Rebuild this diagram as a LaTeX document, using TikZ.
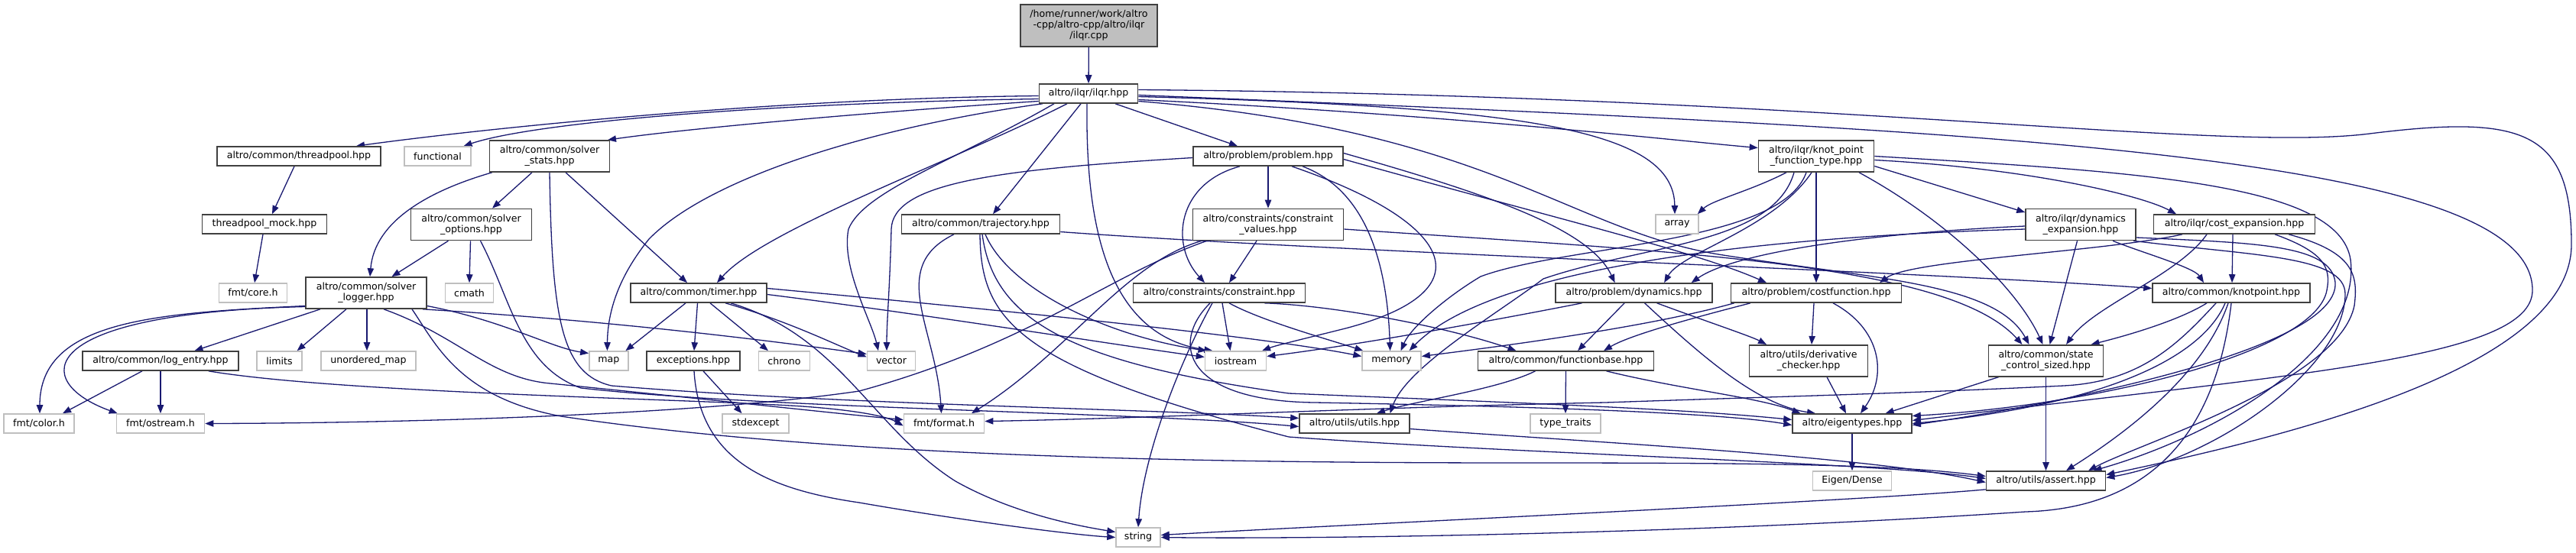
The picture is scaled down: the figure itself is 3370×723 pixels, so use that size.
\documentclass[tikz,border=0pt]{standalone}
\usepackage{fontspec}
\setmainfont{DejaVu Sans}
\usetikzlibrary{arrows.meta,calc,backgrounds}
\definecolor{docc}{HTML}{404040}
\definecolor{extc}{HTML}{BFBFBF}
\definecolor{rootc}{HTML}{BFBFBF}
\definecolor{edgec}{HTML}{191970}
\newcommand\nodefont{\fontsize{6.3pt}{7.1pt}\selectfont}
\tikzset{
  nb/.style={rectangle, inner sep=0pt, align=center, font=\nodefont, text=black, line width=0.8pt, fill=white, minimum height=12.5pt},
  doc/.style={nb, draw=docc},
  ext/.style={nb, draw=extc},
  two/.style={minimum height=20.5pt},
  e/.style={draw=edgec, line width=0.65pt, line join=round, -{Triangle[length=5.5pt,width=4.2pt]}},
}
\begin{document}
\begin{tikzpicture}[x=0.5pt,y=-0.5pt]
\useasboundingbox (0,0) rectangle (3370,723);
% nodes
\node[doc,fill=rootc,minimum width=89.5pt,minimum height=27.5pt] (root) at (1424.4,33.2) {/home/runner/work/altro\\-cpp/altro-cpp/altro/ilqr\\/ilqr.cpp};
\node[doc,minimum width=64.5pt] (ilqr) at (1424,122.5) {altro/ilqr/ilqr.hpp};
\node[doc,minimum width=107pt] (threadpool) at (391,204.5) {altro/common/threadpool.hpp};
\node[ext,minimum width=43.5pt] (functional) at (572.5,204.5) {functional};
\node[doc,two,minimum width=78.5pt] (solverstats) at (719,204.5) {altro/common/solver\\\_stats.hpp};
\node[doc,minimum width=98pt] (problem) at (1659,204.5) {altro/problem/problem.hpp};
\node[doc,two,minimum width=75.5pt] (knotft) at (2376,204.5) {altro/ilqr/knot\_point\\\_function\_type.hpp};
\node[doc,minimum width=81.5pt] (mock) at (346,293.5) {threadpool\_mock.hpp};
\node[doc,two,minimum width=79pt] (solveroptions) at (616.5,294) {altro/common/solver\\\_options.hpp};
\node[doc,minimum width=103.5pt] (trajectory) at (1283,293.5) {altro/common/trajectory.hpp};
\node[doc,two,minimum width=98.5pt] (constraintvalues) at (1659,294) {altro/constraints/constraint\\\_values.hpp};
\node[ext,minimum width=28pt] (array) at (2194,293.5) {array};
\node[doc,two,minimum width=72pt] (dynexp) at (2722,294) {altro/ilqr/dynamics\\\_expansion.hpp};
\node[doc,minimum width=105.5pt] (costexp) at (2923,293.5) {altro/ilqr/cost\_expansion.hpp};
\node[ext,minimum width=44.5pt] (fmtcore) at (331,383.5) {fmt/core.h};
\node[doc,two,minimum width=79pt] (solverlogger) at (479,383.5) {altro/common/solver\\\_logger.hpp};
\node[ext,minimum width=31.5pt] (cmath) at (614,383.5) {cmath};
\node[doc,minimum width=89pt] (timer) at (914,383.5) {altro/common/timer.hpp};
\node[doc,minimum width=112.5pt] (constraint) at (1595,383.5) {altro/constraints/constraint.hpp};
\node[doc,minimum width=102.5pt] (dynamics) at (2137.6,383.5) {altro/problem/dynamics.hpp};
\node[doc,minimum width=111.5pt] (costfunction) at (2376,383.5) {altro/problem/costfunction.hpp};
\node[doc,minimum width=103pt] (knotpoint) at (2919,383.5) {altro/common/knotpoint.hpp};
\node[doc,minimum width=102pt] (logentry) at (210,472.5) {altro/common/log\_entry.hpp};
\node[ext,minimum width=29.5pt] (limits) at (365.6,472.5) {limits};
\node[ext,minimum width=62pt] (unorderedmap) at (482,472.5) {unordered\_map};
\node[ext,minimum width=25.5pt] (map) at (796.4,472.5) {map};
\node[doc,minimum width=61pt] (exceptions) at (907,472.5) {exceptions.hpp};
\node[ext,minimum width=33.5pt] (chrono) at (1026,472.5) {chrono};
\node[ext,minimum width=31.5pt] (vector) at (1166,472.5) {vector};
\node[ext,minimum width=40pt] (iostream) at (1616.5,472.5) {iostream};
\node[ext,minimum width=38.5pt] (memory) at (1820.6,472.5) {memory};
\node[doc,minimum width=115pt] (functionbase) at (2048.5,472.5) {altro/common/functionbase.hpp};
\node[doc,two,minimum width=77.5pt] (derivchecker) at (2366,472.3) {altro/utils/derivative\\\_checker.hpp};
\node[doc,two,minimum width=75pt] (statecs) at (2676.5,472.3) {altro/common/state\\\_control\_sized.hpp};
\node[ext,minimum width=46pt] (fmtcolor) at (51,554.5) {fmt/color.h};
\node[ext,minimum width=57.5pt] (fmtostream) at (210,554.5) {fmt/ostream.h};
\node[ext,minimum width=43.5pt] (stdexcept) at (988.5,554.5) {stdexcept};
\node[ext,minimum width=52.5pt] (fmtformat) at (1235,554.5) {fmt/format.h};
\node[doc,minimum width=72pt] (utils) at (1772,554.5) {altro/utils/utils.hpp};
\node[ext,minimum width=46pt] (typetraits) at (2048,554.5) {type\_traits};
\node[doc,minimum width=78pt] (eigentypes) at (2423,554.5) {altro/eigentypes.hpp};
\node[ext,minimum width=51.5pt] (eigendense) at (2423,629.5) {Eigen/Dense};
\node[doc,minimum width=78pt] (assert) at (2676.5,629.5) {altro/utils/assert.hpp};
\node[ext,minimum width=29pt] (string) at (1489,703.5) {string};
% edges
\begin{scope}[on background layer]
\draw[e] (root) -- (ilqr);
\draw[e] ($(ilqr.west)+(0,3)$) .. controls (1000,129) and (620,170) .. ($(threadpool.north)+(75,0)$);
\draw[e] ($(ilqr.west)+(0,7)$) .. controls (1000,135) and (700,160) .. ($(functional.north)+(34,0)$);
\draw[e] ($(ilqr.west)+(0,10)$) .. controls (1150,146) and (900,168) .. ($(solverstats.north)+(76,0)$);
\draw[e] ($(ilqr.south)+(-60,0)$) .. controls (1150,165) and (930,230) .. (849,313) .. controls (815,355) and (795,400) .. ($(map.north)+(-2,0)$);
\draw[e] ($(ilqr.south)+(-28,0)$) .. controls (1250,210) and (1000,300) .. ($(timer.north)+(24,0)$);
\draw[e] ($(ilqr.south)+(-45,0)$) .. controls (1250,210) and (1130,250) .. (1110,300) .. controls (1100,350) and (1140,420) .. ($(vector.north)+(-17,0)$);
\draw[e] ($(ilqr.south)+(-10,0)$) -- ($(trajectory.north)+(16,0)$);
\draw[e] ($(ilqr.south)+(-2,0)$) .. controls (1420,300) and (1450,440) .. ($(iostream.north)+(-30,0)$);
\draw[e] ($(ilqr.south)+(35,0)$) -- ($(problem.north)+(-40,0)$);
\draw[e] ($(ilqr.east)+(0,4)$) .. controls (2000,140) and (2190,170) .. ($(array.north)+(-3,0)$);
\draw[e] ($(ilqr.east)+(0,8)$) .. controls (1900,150) and (2200,185) .. ($(knotft.west)+(0,-11)$);
\draw[e] ($(ilqr.east)+(0,2)$) .. controls (2600,170) and (3313,200) .. (3313,380) .. controls (3313,470) and (3000,490) .. ($(eigentypes.east)+(0,-4)$);
\draw[e] ($(ilqr.east)+(0,-5)$) .. controls (2400,125) and (2900,200) .. (3100,175) .. controls (3300,150) and (3364,170) .. (3364,320) .. controls (3364,480) and (3000,570) .. ($(assert.east)+(0,-8)$);
\draw[e] ($(ilqr.east)+(0,10)$) .. controls (1950,170) and (2050,300) .. (2248,333) .. controls (2450,365) and (2610,370) .. ($(statecs.north)+(-22,0)$);
\draw[e] ($(threadpool.south)+(-6,0)$) -- ($(mock.north)+(10,0)$);
\draw[e] ($(mock.south)+(-2,0)$) -- ($(fmtcore.north)+(2,0)$);
\draw[e] ($(solverstats.south)+(-23,0)$) -- ($(solveroptions.north)+(27.5,0)$);
\draw[e] ($(solverstats.south west)+(4,0)$) .. controls (560,250) and (490,290) .. ($(solverlogger.north)+(5,0)$);
\draw[e] ($(solverstats.south)+(21,0)$) -- ($(timer.north)+(-15,0)$);
\draw[e] (solverstats.south) .. controls (722,420) and (735,490) .. (800,505) .. controls (1100,530) and (1500,535) .. ($(utils.west)+(0,-7)$);
\draw[e] ($(solveroptions.south)+(-30,0)$) -- ($(solverlogger.north)+(33.5,0)$);
\draw[e] ($(solveroptions.south)+(-1,0)$) -- (cmath.north);
\draw[e] ($(solveroptions.south)+(12,0)$) .. controls (668,390) and (680,480) .. (760,508) .. controls (1000,535) and (1500,540) .. ($(utils.west)+(0,4)$);
\draw[e] ($(solverlogger.south)+(-60,0)$) -- ($(logentry.north)+(44.5,0)$);
\draw[e] ($(solverlogger.south)+(-26,0)$) -- ($(limits.north)+(23,0)$);
\draw[e] ($(solverlogger.south)+(1,0)$) -- ($(unorderedmap.north)+(-2,0)$);
\draw[e] ($(solverlogger.west)+(0,17)$) .. controls (200,410) and (52,420) .. ($(fmtcolor.north)+(1,0)$);
\draw[e] ($(solverlogger.west)+(0,18)$) .. controls (40,410) and (40,500) .. ($(fmtostream.north west)+(2,0)$);
\draw[e] ($(solverlogger.east)+(0,17)$) .. controls (660,420) and (720,455) .. ($(map.west)+(0,-10)$);
\draw[e] ($(solverlogger.south east)+(-6,0)$) .. controls (800,420) and (1000,445) .. ($(vector.west)+(0,-9)$);
\draw[e] ($(solverlogger.south)+(23,0)$) .. controls (600,440) and (640,495) .. (720,502) .. controls (900,520) and (1100,542) .. ($(fmtformat.west)+(0,-5)$);
\draw[e] ($(solverlogger.south)+(60,0)$) .. controls (570,450) and (600,520) .. (734,545) .. controls (1100,600) and (1600,606) .. (2000,606) .. controls (2300,606) and (2480,608) .. ($(assert.west)+(0,-6)$);
\draw[e] ($(logentry.south)+(-24,0)$) -- ($(fmtcolor.north)+(31,0)$);
\draw[e] (logentry.south) -- (fmtostream.north);
\draw[e] ($(logentry.south east)+(-40,0)$) .. controls (450,515) and (900,522) .. (1050,532) .. controls (1120,537) and (1160,545) .. ($(fmtformat.west)+(0,3)$);
\draw[e] ($(timer.south)+(-17,0)$) -- ($(map.north)+(22,0)$);
\draw[e] ($(timer.south)+(-1.5,0)$) -- ($(exceptions.north)+(1,0)$);
\draw[e] ($(timer.south)+(15,0)$) -- ($(chrono.north)+(-21,0)$);
\draw[e] ($(timer.south)+(35,0)$) .. controls (1030,420) and (1090,450) .. ($(vector.west)+(0,-5)$);
\draw[e] ($(timer.south)+(42,0)$) .. controls (1100,440) and (1140,560) .. (1250,630) .. controls (1330,675) and (1420,690) .. ($(string.west)+(0,-7)$);
\draw[e] ($(timer.east)+(0,-6)$) .. controls (1300,405) and (1650,440) .. ($(memory.west)+(0,-6)$);
\draw[e] ($(timer.east)+(0,2)$) .. controls (1200,410) and (1450,450) .. ($(iostream.west)+(0,-5)$);
\draw[e] ($(exceptions.south)+(13,0)$) -- ($(stdexcept.north)+(-18,0)$);
\draw[e] ($(exceptions.south)+(1,0)$) .. controls (915,600) and (1000,640) .. (1124,658) .. controls (1250,680) and (1400,700) .. (string.west);
\draw[e] ($(trajectory.south)+(-35,0)$) .. controls (1160,350) and (1225,430) .. ($(fmtformat.north)+(-3.5,0)$);
\draw[e] ($(trajectory.south)+(6,0)$) .. controls (1320,380) and (1450,440) .. ($(iostream.north)+(-38,0)$);
\draw[e] ($(trajectory.south)+(2,0)$) .. controls (1300,420) and (1400,475) .. (1686,515) .. controls (2000,528) and (2200,535) .. ($(eigentypes.west)+(0,-5)$);
\draw[e] ($(trajectory.south)+(-1,0)$) .. controls (1283,420) and (1330,480) .. (1686,572) .. controls (2000,595) and (2450,605) .. ($(assert.west)+(0,-3)$);
\draw[e] ($(trajectory.east)+(0,10)$) .. controls (1750,330) and (2500,355) .. ($(knotpoint.west)+(0,-6)$);
\draw[e] (problem.south) -- (constraintvalues.north);
\draw[e] ($(problem.south)+(-37,0)$) .. controls (1540,240) and (1530,320) .. ($(constraint.north)+(-19,0)$);
\draw[e] ($(problem.west)+(0,2)$) .. controls (1300,222) and (1168,240) .. (1166,300) .. controls (1164,380) and (1160,420) .. ($(vector.north)+(-6,0)$);
\draw[e] ($(problem.south)+(31,0)$) .. controls (1900,290) and (1950,380) .. (1760,430) .. controls (1700,445) and (1670,452) .. ($(iostream.north)+(34.5,0)$);
\draw[e] ($(problem.south)+(45,0)$) .. controls (1790,250) and (1815,350) .. ($(memory.north)+(-2,0)$);
\draw[e] ($(problem.east)+(0,-4)$) .. controls (1950,255) and (2080,300) .. ($(dynamics.north)+(-25,0)$);
\draw[e] ($(problem.east)+(0,4)$) .. controls (2050,290) and (2220,330) .. ($(costfunction.north)+(-65,0)$);
\draw[e] ($(constraintvalues.south)+(-15,0)$) -- ($(constraint.north)+(13,0)$);
\draw[e] ($(constraintvalues.south)+(-80,0)$) .. controls (1450,360) and (1350,450) .. (1124,512) .. controls (900,545) and (500,554) .. (fmtostream.east);
\draw[e] ($(constraintvalues.south)+(-87,0)$) .. controls (1470,345) and (1400,460) .. ($(fmtformat.north)+(36,0)$);
\draw[e] ($(constraintvalues.east)+(0,6)$) .. controls (2200,330) and (2550,345) .. ($(statecs.north)+(-31,0)$);
\draw[e] ($(constraint.south)+(-9,0)$) .. controls (1540,480) and (1495,600) .. (string.north);
\draw[e] ($(constraint.south)+(-12,0)$) .. controls (1530,450) and (1550,525) .. (1720,527) .. controls (2000,532) and (2250,540) .. ($(eigentypes.west)+(0,2)$);
\draw[e] ($(constraint.south)+(4,0)$) -- ($(iostream.north)+(-7,0)$);
\draw[e] ($(constraint.south)+(13,0)$) .. controls (1650,420) and (1740,445) .. ($(memory.north west)+(2,0)$);
\draw[e] ($(constraint.south)+(59,0)$) .. controls (1750,400) and (1900,430) .. ($(functionbase.north)+(-65,0)$);
\draw[e] ($(knotft.south)+(-39,0)$) .. controls (2290,250) and (2240,262) .. ($(array.north east)+(-2,0)$);
\draw[e] ($(knotft.south)+(-29,0)$) .. controls (2320,320) and (2150,320) .. (2019,365) .. controls (1960,410) and (1840,480) .. ($(utils.north)+(46.5,0)$);
\draw[e] ($(knotft.south)+(-13,0)$) .. controls (2330,320) and (2050,320) .. (1937,362) .. controls (1890,390) and (1845,430) .. ($(memory.north)+(12,0)$);
\draw[e] ($(knotft.south)+(-6,0)$) .. controls (2320,300) and (2200,330) .. ($(dynamics.north)+(39.5,0)$);
\draw[e] (knotft.south) -- (costfunction.north);
\draw[e] ($(knotft.south)+(56,0)$) .. controls (2550,290) and (2640,380) .. ($(statecs.north)+(-4,0)$);
\draw[e] ($(knotft.east)+(0,13)$) -- ($(dynexp.west)+(0,-16)$);
\draw[e] ($(knotft.east)+(0,5)$) .. controls (2650,220) and (2800,255) .. ($(costexp.north)+(-76,0)$);
\draw[e] (knotft.east) .. controls (2800,225) and (3060,240) .. (3075,340) .. controls (3090,460) and (2900,570) .. ($(assert.north)+(62,0)$);
\draw[e] ($(dynexp.west)+(0,2)$) .. controls (2450,305) and (2270,330) .. ($(dynamics.north)+(75,0)$);
\draw[e] ($(dynexp.west)+(0,6)$) .. controls (2300,310) and (1950,350) .. ($(memory.north)+(23,0)$);
\draw[e] ($(dynexp.south)+(-4.5,0)$) -- ($(statecs.north)+(5,0)$);
\draw[e] ($(dynexp.south)+(42,0)$) .. controls (2800,330) and (2870,350) .. ($(knotpoint.north)+(-36,0)$);
\draw[e] ($(dynexp.east)+(0,17)$) .. controls (2950,318) and (3050,320) .. (3055,370) .. controls (3060,450) and (2750,520) .. ($(eigentypes.east)+(0,2)$);
\draw[e] ($(dynexp.south east)+(-4,0)$) .. controls (2950,335) and (3068,335) .. (3068,385) .. controls (3068,480) and (2900,600) .. ($(assert.east)+(0,-4)$);
\draw[e] ($(costexp.south)+(-2,0)$) -- ($(knotpoint.north)+(1,0)$);
\draw[e] ($(costexp.south)+(-68,0)$) .. controls (2750,330) and (2500,340) .. ($(costfunction.north)+(83,0)$);
\draw[e] ($(costexp.south)+(-36,0)$) .. controls (2850,360) and (2740,400) .. ($(statecs.north)+(26.5,0)$);
\draw[e] ($(costexp.south)+(53,0)$) .. controls (3040,330) and (3050,350) .. (3044,380) .. controls (3030,460) and (2750,530) .. ($(eigentypes.east)+(0,-10)$);
\draw[e] ($(costexp.south)+(71,0)$) .. controls (3080,330) and (3085,360) .. (3080,400) .. controls (3060,500) and (2800,580) .. ($(assert.north)+(55.5,0)$);
\draw[e] ($(knotpoint.south)+(-32,0)$) .. controls (2850,420) and (2780,440) .. ($(statecs.north)+(59,0)$);
\draw[e] ($(knotpoint.south)+(-20,0)$) .. controls (2850,450) and (2800,500) .. (2700,505) .. controls (2500,515) and (2300,520) .. (2100,527) .. controls (1800,533) and (1500,548) .. ($(fmtformat.east)+(0,-3)$);
\draw[e] ($(knotpoint.south)+(-8,0)$) .. controls (2880,470) and (2750,530) .. (eigentypes.east);
\draw[e] ($(knotpoint.south)+(-4,0)$) .. controls (2880,500) and (2760,580) .. ($(assert.north)+(26.5,0)$);
\draw[e] (knotpoint.south) .. controls (2900,560) and (2820,665) .. (2650,670) .. controls (2200,700) and (1700,706) .. (string.east);
\draw[e] ($(dynamics.south)+(-12.5,0)$) -- ($(functionbase.north)+(15.5,0)$);
\draw[e] ($(dynamics.south)+(-68,0)$) .. controls (1900,430) and (1750,455) .. ($(iostream.east)+(0,-6)$);
\draw[e] ($(dynamics.south)+(14,0)$) .. controls (2230,470) and (2300,530) .. ($(eigentypes.north)+(-48,0)$);
\draw[e] ($(dynamics.south)+(30,0)$) .. controls (2230,420) and (2290,440) .. ($(derivchecker.north)+(-55,0)$);
\draw[e] ($(costfunction.south)+(-3,0)$) -- ($(derivchecker.north)+(4,0)$);
\draw[e] ($(costfunction.south)+(22,0)$) .. controls (2460,430) and (2470,490) .. ($(eigentypes.north)+(11,0)$);
\draw[e] ($(costfunction.south)+(-86,0)$) .. controls (2200,420) and (2130,440) .. ($(functionbase.north)+(49.5,0)$);
\draw[e] ($(costfunction.south west)+(5,0)$) .. controls (2150,430) and (1950,455) .. ($(memory.east)+(0,-6)$);
\draw[e] ($(functionbase.south)+(-40,0)$) .. controls (1960,510) and (1850,525) .. ($(utils.north)+(29,0)$);
\draw[e] (functionbase.south) -- (typetraits.north);
\draw[e] ($(functionbase.south)+(53,0)$) .. controls (2200,510) and (2300,520) .. ($(eigentypes.north)+(-67.5,0)$);
\draw[e] ($(derivchecker.south)+(24,0)$) -- ($(eigentypes.north)+(-8,0)$);
\draw[e] ($(statecs.south west)+(14,0)$) -- ($(eigentypes.north)+(43.6,0)$);
\draw[e] (statecs.south) -- (assert.north);
\draw[e] (eigentypes.south) -- (eigendense.north);
\draw[e] ($(utils.east)+(0,7)$) .. controls (2100,580) and (2450,598) .. ($(assert.west)+(0,2)$);
\draw[e] ($(assert.south west)+(0,-2)$) .. controls (2450,655) and (1700,690) .. ($(string.east)+(0,-3)$);
\end{scope}
\end{tikzpicture}
\end{document}
